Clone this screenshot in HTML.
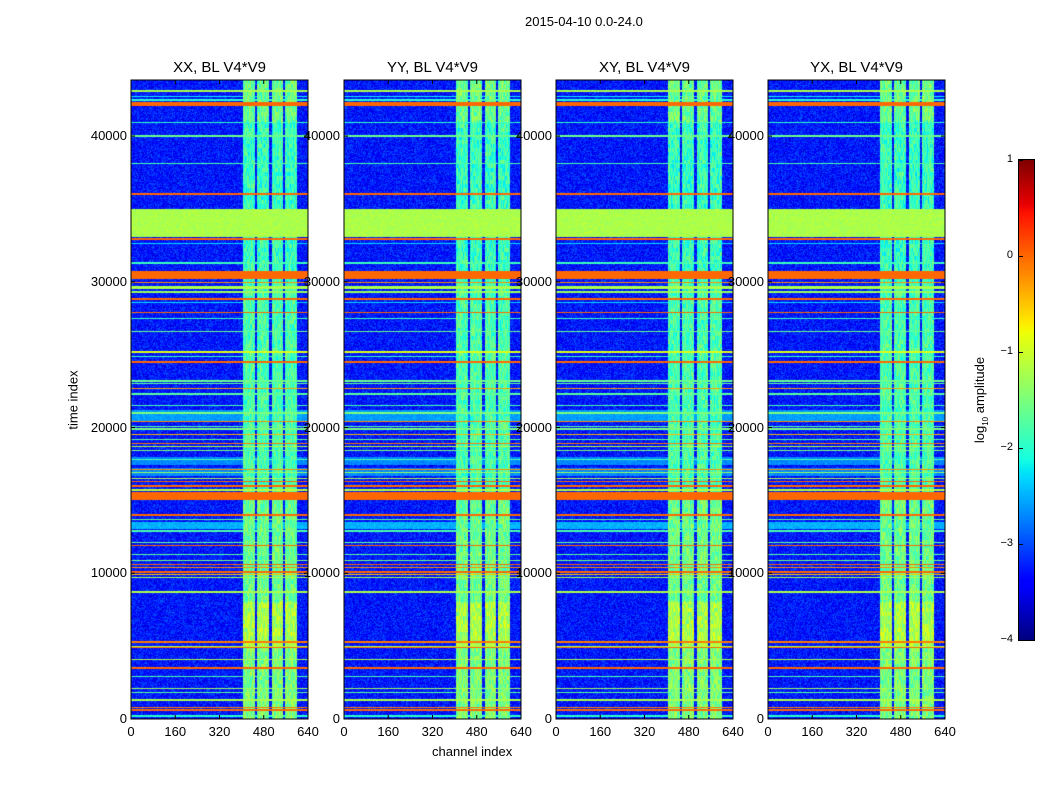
<!DOCTYPE html>
<html><head><meta charset="utf-8">
<style>
body{margin:0;background:#fff;font-family:"Liberation Sans",sans-serif;}
#root{position:relative;width:1050px;height:800px;background:#fff;overflow:hidden;}
.t{position:absolute;font-size:13px;color:#000;white-space:nowrap;}
.title{position:absolute;font-size:15px;color:#000;white-space:nowrap;transform:translateX(-50%);}
canvas{position:absolute;}
</style></head>
<body>
<div id="root">
<div class="t" style="left:525px;top:14px">2015-04-10 0.0-24.0</div>
<div class="t" style="left:432px;top:744px">channel index</div>
<div class="t" style="left:73px;top:400px;transform:translate(-50%,-50%) rotate(-90deg)">time index</div>
<div class="t" style="left:981px;top:400px;transform:translate(-50%,-50%) rotate(-90deg)">log<sub style="font-size:8px">10</sub> amplitude</div>
</div>
<script>
// ---- data ----
const panelTitles = ["XX, BL V4*V9","YY, BL V4*V9","XY, BL V4*V9","YX, BL V4*V9"];
const xTicks = [0,160,320,480,640];
const yTicks = [0,10000,20000,30000,40000];
const cbTicks = [1,0,-1,-2,-3,-4];
const backgroundLevel = -3.3;
// vertical RFI channel bands: [startChannel, endChannel]
const rfiStart = [405,455,510,557];
const rfiEnd   = [448,499,550,600];
// RFI strength vs time: [tStart, tEnd, level]
const rfiT0 = [0,5000,8000,15000,30000,41000];
const rfiT1 = [5000,8000,15000,30000,41000,43900];
const rfiLv = [-1.5,-1.2,-1.6,-1.8,-1.9,-1.6];
// broad horizontal regions: [tStart, tEnd, level]
const regT0 = [33050,20400,13050,17400,16700];
const regT1 = [35000,21200,13550,18000,17200];
const regLv = [-1.2,-2.6,-2.5,-2.7,-2.7];
// horizontal flagged lines: time center, half-width, level
const lineT = [43100,42700,42500,42250,42120,40950,40000,38100,36050,34900,32950,32650,31300,30450,29950,29600,29300,28850,28600,27900,27500,26600,25200,24900,24500,23200,23000,22700,22300,21500,21000,20400,20100,19900,19500,19200,18900,18700,18400,17800,17100,16900,16500,16300,16000,15700,15300,14000,13700,12900,12100,11900,11300,10900,10600,10400,10100,9900,9700,8700,5300,5000,4900,4100,3500,2900,2100,1800,1300,800,600,200];
const lineW = [60,50,60,90,60,50,50,40,60,40,70,40,50,260,50,80,80,70,40,40,40,40,50,40,50,40,40,40,40,40,40,40,40,40,40,40,40,50,40,40,40,40,50,40,60,60,250,50,40,40,40,50,40,40,60,40,60,40,40,50,60,40,50,40,40,40,40,40,40,50,60,60];
const lineLv = [-1.2,-2.2,-2.0,0,0,-2.0,-1.6,-1.8,0,-2.4,0,-2.3,-1.9,0,-0.2,-1.2,-1.3,0,-2.3,0,-1.9,-1.6,-0.9,-1.9,0,-1.6,-1.7,-0.3,-1.7,-1.8,-1.5,-0.2,-1.7,-1.5,-0.4,-1.6,-0.1,-1.1,-1.5,-1.8,-0.2,-1.3,-1.2,0,0,-1.1,0,0,-1.6,-1.8,-1.6,0,-1.7,-1.5,0,-0.2,0,-0.5,-1.2,-1.2,-0.1,-1.2,0,-1.2,0,-1.8,-1.3,-1.7,-1.2,-0.1,0,-2.0];
// ---- layout ----
const panelX = [131,344,556,768];
const PW=177, PT=80, PB=719, TMAX=43850, CMAX=640;
const root=document.getElementById('root');
function yScale(t){return PB-(t/TMAX)*(PB-PT);}
function seg(v,pts){for(let i=1;i<pts.length;i++){if(v<=pts[i][0]){const a=pts[i-1],b=pts[i];return a[1]+(b[1]-a[1])*(v-a[0])/(b[0]-a[0]);}}return pts[pts.length-1][1];}
const JR=[[0,0],[0.35,0],[0.66,1],[0.89,1],[1,0.5]];
const JG=[[0,0],[0.125,0],[0.375,1],[0.64,1],[0.91,0],[1,0]];
const JB=[[0,0.5],[0.11,1],[0.34,1],[0.65,0],[1,0]];
function jet(v){return [seg(v,JR)*255|0,seg(v,JG)*255|0,seg(v,JB)*255|0];}
function hash(a,b,c){let h=(a*374761393+b*668265263+c*2147483647)|0;h=(h^(h>>>13))*1274126177|0;return ((h^(h>>>16))>>>0)/4294967296;}
function levelAt(t,ch,seed,row){
  let lv=backgroundLevel+(hash(ch|0,row,seed)-0.5)*0.75;
  for(let i=0;i<regT0.length;i++) if(t>=regT0[i]&&t<regT1[i]) lv=Math.max(lv,regLv[i]+(hash(ch|0,row,seed+7)-0.5)*0.3);
  for(let j=0;j<rfiStart.length;j++) if(ch>=rfiStart[j]&&ch<rfiEnd[j]){
    for(let k=0;k<rfiT0.length;k++) if(t>=rfiT0[k]&&t<rfiT1[k]) lv=Math.max(lv,rfiLv[k]+(hash(ch|0,row>>2,seed+3)-0.5)*0.8);
  }
  for(let i=0;i<lineT.length;i++) if(Math.abs(t-lineT[i])<=lineW[i]) lv=Math.max(lv,lineLv[i]);
  return lv;
}
panelX.forEach((x0,p)=>{
  const c=document.createElement('canvas');
  
  
  const H=PB-PT;
  c.width=PW;c.height=H;c.style.left=x0+'px';c.style.top=PT+'px';
  const ctx=c.getContext('2d');const img=ctx.createImageData(PW,H);
  for(let y=0;y<H;y++){
    const t=(PB-(PT+y+0.5))/(PB-PT)*TMAX;
    for(let x=0;x<PW;x++){
      const ch=(x+0.5)/PW*CMAX;
      const lv=levelAt(t,ch,p+1,y);
      const col=jet(Math.min(Math.max((lv+4)/5,0),1));
      const i=(y*PW+x)*4;img.data[i]=col[0];img.data[i+1]=col[1];img.data[i+2]=col[2];img.data[i+3]=255;
    }
  }
  ctx.putImageData(img,0,0);
  root.appendChild(c);
  const ns='http://www.w3.org/2000/svg';
  const svg=document.createElementNS(ns,'svg');
  svg.setAttribute('width',PW+2);svg.setAttribute('height',H+2);
  svg.style.position='absolute';svg.style.left=(x0-1)+'px';svg.style.top=(PT-1)+'px';
  
  
  let s='<rect x="1" y="1" width="'+PW+'" height="'+H+'" fill="none" stroke="#000" stroke-width="1"/>';
  xTicks.forEach(v=>{const xx=1+v/CMAX*PW;s+='<line x1="'+xx+'" y1="'+(H+1)+'" x2="'+xx+'" y2="'+(H-3)+'" stroke="#000"/><line x1="'+xx+'" y1="1" x2="'+xx+'" y2="5" stroke="#000"/>';});
  yTicks.forEach(v=>{const yy=yScale(v)-PT+1;s+='<line x1="1" y1="'+yy+'" x2="5" y2="'+yy+'" stroke="#000"/><line x1="'+(PW+1)+'" y1="'+yy+'" x2="'+(PW-3)+'" y2="'+yy+'" stroke="#000"/>';});
  svg.innerHTML=s;root.appendChild(svg);
  const tt=document.createElement('div');tt.className='title';tt.style.left=(x0+PW/2)+'px';tt.style.top='59px';
  tt.textContent=panelTitles[p];
  
  
  root.appendChild(tt);
  xTicks.forEach(v=>{const d=document.createElement('div');d.className='t';d.textContent=v;
    d.style.left=(x0+v/CMAX*PW)+'px';d.style.top='724px';d.style.transform='translateX(-50%)';
    
    
    root.appendChild(d);});
  yTicks.forEach(v=>{const d=document.createElement('div');d.className='t';d.textContent=v;
    d.style.right=(1050-(x0-4))+'px';d.style.top=(yScale(v)-8)+'px';
    
    
    root.appendChild(d);});
});
(function(){
  const c=document.createElement('canvas');
  
  
  c.width=15;c.height=480;c.style.left='1019px';c.style.top='160px';c.style.outline='1px solid #000';
  const ctx=c.getContext('2d');
  for(let y=0;y<480;y++){const col=jet(1-y/479);ctx.fillStyle='rgb('+col+')';ctx.fillRect(0,y,15,1);}
  root.appendChild(c);
  cbTicks.forEach(v=>{const y=160+(1-v)/5*480;
    const d=document.createElement('div');d.className='t';d.style.fontSize='11px';
    d.textContent=(v<0?'\u2212'+(-v):String(v));d.style.right=(1050-1013)+'px';d.style.top=(y-7)+'px';
    
    
    root.appendChild(d);
    const l=document.createElement('div');l.style.cssText='position:absolute;left:1019px;width:4px;height:1px;background:#000;top:'+y+'px';
    
    
    root.appendChild(l);});
})();
</script>
</body></html>
